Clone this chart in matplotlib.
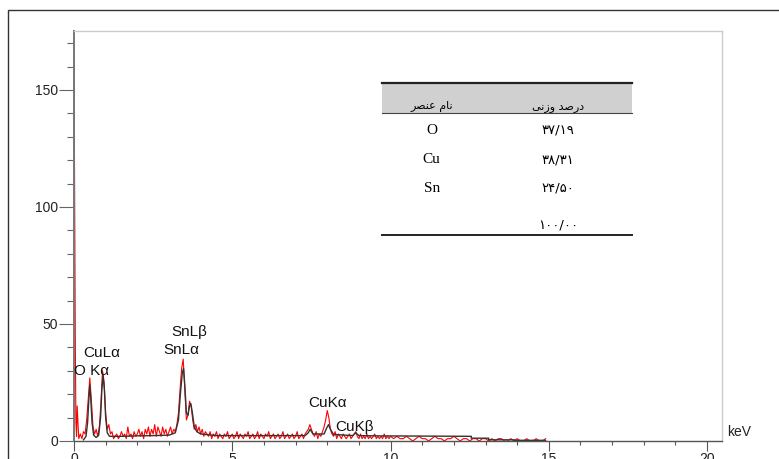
import numpy as np
import matplotlib
matplotlib.use("Agg")
import matplotlib.pyplot as plt
from matplotlib.patches import Rectangle
from matplotlib.ticker import MultipleLocator

# ---------------------------------------------------------------------------
# data (counts vs keV)
head_kev = [0.00, 0.02, 0.04, 0.06, 0.08, 0.10]
head_counts = [166, 100, 45, 8, 2, 15]

# 0.15 .. 10.00 keV, step 0.05
body_counts = [
    1, 3, 1, 4, 3, 9, 18, 27, 17, 6,
    3, 5, 2, 6, 16, 30, 25, 12, 5, 7,
    3, 4, 1, 2, 3, 1, 2, 4, 2, 3,
    1, 6, 2, 3, 1, 4, 2, 3, 5, 2,
    4, 1, 5, 3, 6, 2, 5, 3, 7, 2,
    6, 4, 2, 6, 3, 5, 2, 4, 6, 3,
    5, 4, 7, 12, 22, 31, 35, 22, 9, 11,
    17, 15, 9, 5, 7, 4, 6, 3, 5, 2,
    4, 3, 2, 4, 1, 3, 2, 4, 1, 3,
    2, 1, 3, 2, 4, 1, 2, 3, 1, 2,
    4, 1, 3, 2, 1, 3, 2, 4, 1, 2,
    3, 1, 2, 4, 1, 3, 2, 1, 3, 2,
    4, 1, 2, 3, 1, 2, 3, 1, 2, 4,
    1, 2, 3, 1, 2, 3, 1, 2, 4, 1,
    2, 3, 1, 3, 4, 5, 7, 5, 3, 2,
    4, 1, 3, 2, 4, 6, 9, 13, 10, 5,
    3, 2, 4, 1, 3, 2, 1, 3, 2, 1,
    2, 3, 1, 2, 3, 4, 2, 1, 3, 1,
    2, 1, 3, 1, 2, 1, 2, 3, 1, 2,
    1, 2, 1, 3, 1, 2, 1, 2,
]

# 10.1 .. 14.9 keV, step 0.1
tail_counts = [
    1, 2, 1, 1, 2, 1, 0, 1, 2, 1,
    1, 0, 1, 2, 1, 1, 0, 1, 1, 2,
    1, 0, 1, 1, 0, 1, 1, 0, 1, 1,
    0, 1, 0, 1, 1, 0, 0, 1, 0, 1,
    0, 0, 1, 0, 0, 1, 0, 0, 1,
]

# fitted (black) curve
fit_kev = [0.30, 0.38, 0.43, 0.47, 0.50, 0.53, 0.57, 0.62, 0.70, 0.78,
           0.84, 0.88, 0.92, 0.96, 1.00, 1.05, 1.12, 1.50, 2.00, 2.50,
           3.00, 3.20, 3.30, 3.36, 3.42, 3.46, 3.50, 3.55, 3.60, 3.65,
           3.69, 3.74, 3.80, 3.88, 4.00, 4.50, 7.30, 7.40, 7.46, 7.55,
           7.90, 7.98, 8.04, 8.10, 8.20, 8.80, 8.90, 9.00, 9.50, 12.55,
           12.55, 13.10, 13.10, 13.90, 13.90, 14.90, 14.90]
fit_counts = [0.5, 2, 8, 18, 24, 18, 8, 2.5, 1.5, 2.5,
              10, 22, 28, 22, 10, 3.5, 2, 2, 2.2, 2.3,
              2.5, 3.5, 9, 20, 29, 31, 24, 12, 11, 15,
              16, 12, 6, 4, 3, 2.3, 2.3, 3.5, 5, 3,
              3, 5.5, 7, 5, 2.8, 2.3, 3.5, 2.3, 2.2, 2.0,
              1.2, 1.2, 0.5, 0.5, 0.3, 0.3, 0]

# peak labels
peak_labels = ["O K\u03b1", "CuL\u03b1", "SnL\u03b2", "SnL\u03b1", "CuK\u03b1", "CuK\u03b2"]
peak_label_kev = [0.0, 0.28, 3.06, 2.81, 7.39, 8.25]
peak_label_counts = [30, 37.6, 46.6, 38.9, 16.2, 6.0]

# weight percent table
col_headers = ["\uFEAE\uFEBC\uFEE8\uFECB \uFEE1\uFE8E\uFEE7",      # نام عنصر
               "\uFEF0\uFEE7\uFEAF\uFEED \uFEAA\uFEBB\uFEAD\uFEA9"]  # درصد وزنی
elements = ["O", "Cu", "Sn", ""]
weight_pct = ["\u06f3\u06f7/\u06f1\u06f9", "\u06f3\u06f8/\u06f3\u06f1",
              "\u06f2\u06f4/\u06f5\u06f0", "\u06f1\u06f0\u06f0/\u06f0\u06f0"]

# ---------------------------------------------------------------------------
body_kev = 0.15 + 0.05 * np.arange(len(body_counts))
tail_kev = 10.1 + 0.1 * np.arange(len(tail_counts))
spec_kev = np.concatenate([head_kev, body_kev, tail_kev])
spec_counts = np.concatenate([head_counts, body_counts, tail_counts])

plt.rcParams["font.family"] = ["Liberation Sans", "DejaVu Sans"]

fig = plt.figure(figsize=(7.79, 4.59), dpi=100)
ax = fig.add_axes([74 / 779, 1 - 441 / 459, 648 / 779, 410 / 459])

# outer frame
fig.add_artist(Rectangle((8 / 779, -0.5), 2.0, 0.5 + (1 - 10 / 459),
                         transform=fig.transFigure, fill=False,
                         ec="#333333", lw=1.0))

ax.plot(spec_kev, spec_counts, color="#ff0000", lw=0.8)
ax.plot(fit_kev, fit_counts, color="#333333", lw=1.0)

ax.set_xlim(0, 20.47)
ax.set_ylim(0, 175.2)

# axes / ticks
ax.xaxis.set_major_locator(MultipleLocator(5))
ax.xaxis.set_minor_locator(MultipleLocator(1))
ax.yaxis.set_major_locator(MultipleLocator(50))
ax.yaxis.set_minor_locator(MultipleLocator(10))
ax.tick_params(axis="x", which="major", length=7, width=0.8, color="#555555",
               labelsize=10, pad=1, labelcolor="#222222")
ax.tick_params(axis="x", which="minor", length=3, width=0.8, color="#555555")
ax.tick_params(axis="y", which="major", length=10.8, width=0.8, color="#666666",
               labelsize=10, pad=0.5, labelcolor="#222222")
ax.tick_params(axis="y", which="minor", length=5, width=0.8, color="#666666")

ax.spines["left"].set_color("#777777")
ax.spines["left"].set_linewidth(1.4)
ax.spines["bottom"].set_color("#555555")
ax.spines["bottom"].set_linewidth(1.0)
for s in ("top", "right"):
    ax.spines[s].set_color("#cccccc")
    ax.spines[s].set_linewidth(1.0)

ax.text(1.008, 0.004, "keV", transform=ax.transAxes, ha="left", va="bottom",
        fontsize=10, color="#222222")

for lab, xk, yc in zip(peak_labels, peak_label_kev, peak_label_counts):
    ax.text(xk, yc, lab, ha="left", va="center", fontsize=11, color="#111111")

# weight percent table (axes fraction coords)
tx0, tx1 = 0.4753, 0.8611
ax.add_patch(Rectangle((tx0, 0.800), tx1 - tx0, 0.0732, transform=ax.transAxes,
                       fc="#d0d0d0", ec="none"))
ax.plot([tx0, tx1], [0.8732, 0.8732], transform=ax.transAxes, color="#222222", lw=1.6)
ax.plot([tx0, tx1], [0.800, 0.800], transform=ax.transAxes, color="#444444", lw=0.8)
ax.plot([tx0, tx1], [0.5024, 0.5024], transform=ax.transAxes, color="#222222", lw=1.4)

col_x = [0.552, 0.747]
ax.text(col_x[0], 0.815, col_headers[0], transform=ax.transAxes, ha="center",
        va="center", fontsize=8, family=["DejaVu Sans"])
ax.text(col_x[1], 0.815, col_headers[1], transform=ax.transAxes, ha="center",
        va="center", fontsize=8, family=["DejaVu Sans"])

row_y = [0.7585, 0.6854, 0.617, 0.5268]
for el, wp, ry in zip(elements, weight_pct, row_y):
    ax.text(col_x[0], ry, el, transform=ax.transAxes, ha="center", va="center",
            fontsize=11, family=["Liberation Serif", "DejaVu Sans"])
    ax.text(col_x[1], ry, wp, transform=ax.transAxes, ha="center", va="center",
            fontsize=9.5, family=["DejaVu Sans"])

fig.savefig("out.png", dpi=100)
